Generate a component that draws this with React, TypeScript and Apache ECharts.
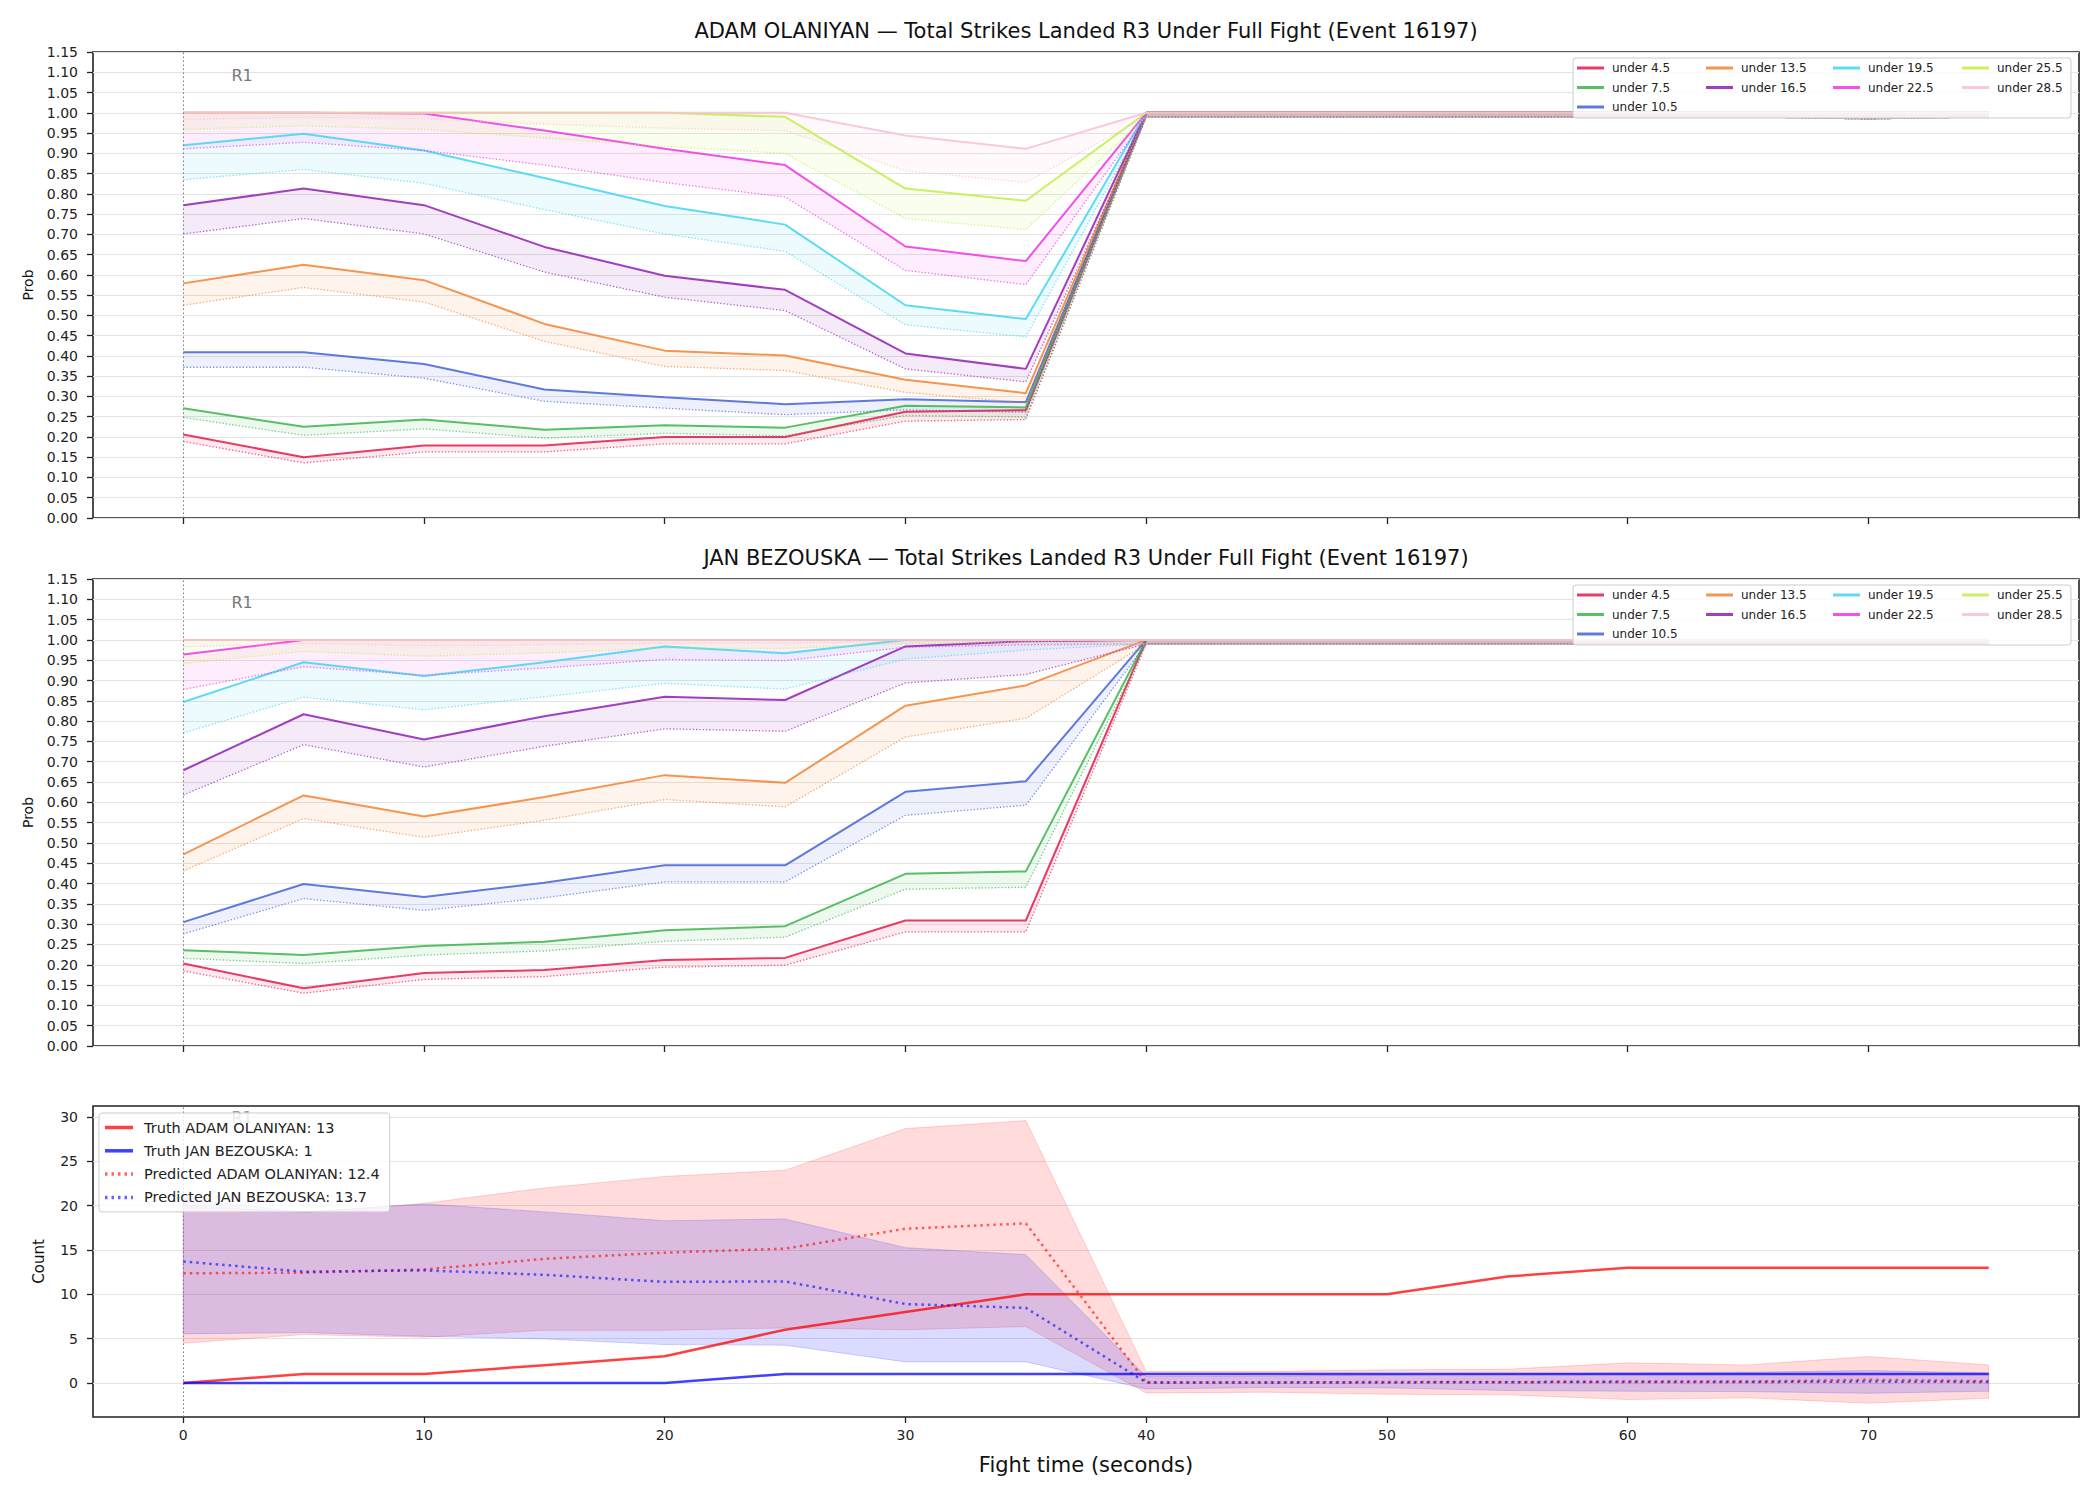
import React, { useEffect, useRef } from 'react';
import * as echarts from 'echarts';

// ---------- DATA ----------
const TIMES = [0, 5, 10, 15, 20, 25, 30, 35, 40, 45, 50, 55, 60, 65, 70, 75];
const X_TICKS = [0, 10, 20, 30, 40, 50, 60, 70];
const COUNT_TICKS = [0, 5, 10, 15, 20, 25, 30];

const THRESHOLDS = ['under 4.5', 'under 7.5', 'under 10.5', 'under 13.5', 'under 16.5', 'under 19.5', 'under 22.5', 'under 25.5', 'under 28.5'];
const RGB = ['230,25,75', '60,180,75', '67,99,216', '245,130,49', '145,30,180', '66,212,244', '240,50,230', '191,239,69', '250,190,212'];

const TITLE_ADAM = 'ADAM OLANIYAN — Total Strikes Landed R3 Under Full Fight (Event 16197)';
const TITLE_JAN = 'JAN BEZOUSKA — Total Strikes Landed R3 Under Full Fight (Event 16197)';

// ADAM OLANIYAN: solid probability lines
const ADAM_SOLID = [
  [0.206, 0.150, 0.179, 0.179, 0.200, 0.200, 0.262, 0.266, 1, 1, 1, 1, 1, 1, 1, 1],
  [0.271, 0.225, 0.243, 0.218, 0.229, 0.223, 0.277, 0.273, 1, 1, 1, 1, 1, 1, 1, 1],
  [0.409, 0.409, 0.380, 0.317, 0.298, 0.281, 0.293, 0.286, 1, 1, 1, 1, 1, 1, 1, 1],
  [0.579, 0.625, 0.587, 0.479, 0.413, 0.401, 0.341, 0.308, 1, 1, 1, 1, 1, 1, 1, 1],
  [0.772, 0.813, 0.772, 0.669, 0.598, 0.563, 0.406, 0.368, 1, 1, 1, 1, 1, 1, 1, 1],
  [0.920, 0.948, 0.907, 0.839, 0.770, 0.724, 0.525, 0.491, 1, 1, 1, 1, 1, 1, 1, 1],
  [1.000, 1.000, 0.998, 0.956, 0.911, 0.871, 0.670, 0.634, 1, 1, 1, 1, 1, 1, 1, 1],
  [1.000, 1.000, 1.000, 1.000, 1.000, 0.990, 0.813, 0.783, 1, 1, 1, 1, 1, 1, 1, 1],
  [1.000, 1.000, 1.000, 1.000, 1.000, 1.000, 0.944, 0.911, 1, 1, 1, 1, 1, 1, 1, 1],
];
// ADAM OLANIYAN: dotted lines
const ADAM_DOTTED = [
  [0.189, 0.136, 0.163, 0.163, 0.183, 0.183, 0.239, 0.243, 0.99, 0.99, 0.99, 0.99, 0.99, 0.99, 0.985, 0.99],
  [0.248, 0.204, 0.220, 0.197, 0.209, 0.203, 0.253, 0.249, 0.99, 0.99, 0.99, 0.99, 0.99, 0.99, 0.985, 0.99],
  [0.372, 0.372, 0.345, 0.288, 0.271, 0.255, 0.267, 0.261, 0.99, 0.99, 0.99, 0.99, 0.99, 0.99, 0.985, 0.99],
  [0.525, 0.569, 0.533, 0.436, 0.374, 0.364, 0.310, 0.284, 0.99, 0.99, 0.99, 0.99, 0.99, 0.99, 0.985, 0.99],
  [0.701, 0.739, 0.701, 0.607, 0.545, 0.512, 0.368, 0.336, 0.99, 0.99, 0.99, 0.99, 0.99, 0.99, 0.985, 0.99],
  [0.835, 0.860, 0.826, 0.761, 0.701, 0.658, 0.477, 0.447, 0.99, 0.99, 0.99, 0.99, 0.99, 0.99, 0.985, 0.99],
  [0.911, 0.927, 0.907, 0.871, 0.828, 0.792, 0.611, 0.576, 0.99, 0.99, 0.99, 0.99, 0.99, 0.99, 0.985, 0.99],
  [0.959, 0.968, 0.959, 0.938, 0.917, 0.900, 0.739, 0.712, 0.99, 0.99, 0.99, 0.99, 0.99, 0.99, 0.985, 0.99],
  [0.983, 0.989, 0.985, 0.972, 0.962, 0.956, 0.857, 0.828, 0.99, 0.99, 0.99, 0.99, 0.99, 0.99, 0.985, 0.99],
];
// JAN BEZOUSKA: solid probability lines
const JAN_SOLID = [
  [0.203, 0.142, 0.180, 0.187, 0.212, 0.217, 0.309, 0.309, 1, 1, 1, 1, 1, 1, 1, 1],
  [0.236, 0.224, 0.246, 0.257, 0.285, 0.295, 0.424, 0.430, 1, 1, 1, 1, 1, 1, 1, 1],
  [0.305, 0.399, 0.367, 0.402, 0.445, 0.445, 0.626, 0.652, 1, 1, 1, 1, 1, 1, 1, 1],
  [0.472, 0.617, 0.565, 0.613, 0.667, 0.648, 0.838, 0.888, 1, 1, 1, 1, 1, 1, 1, 1],
  [0.679, 0.817, 0.755, 0.812, 0.860, 0.852, 0.984, 0.997, 1, 1, 1, 1, 1, 1, 1, 1],
  [0.847, 0.945, 0.911, 0.945, 0.984, 0.967, 1.000, 1.000, 1, 1, 1, 1, 1, 1, 1, 1],
  [0.964, 1.000, 1.000, 1.000, 1.000, 1.000, 1.000, 1.000, 1, 1, 1, 1, 1, 1, 1, 1],
  [1.000, 1.000, 1.000, 1.000, 1.000, 1.000, 1.000, 1.000, 1, 1, 1, 1, 1, 1, 1, 1],
  [1.000, 1.000, 1.000, 1.000, 1.000, 1.000, 1.000, 1.000, 1, 1, 1, 1, 1, 1, 1, 1],
];
// JAN BEZOUSKA: dotted lines
const JAN_DOTTED = [
  [0.185, 0.130, 0.164, 0.171, 0.194, 0.199, 0.281, 0.281, 0.99, 0.99, 0.99, 0.99, 0.99, 0.99, 0.99, 0.99],
  [0.216, 0.203, 0.224, 0.234, 0.258, 0.268, 0.386, 0.391, 0.99, 0.99, 0.99, 0.99, 0.99, 0.99, 0.99, 0.99],
  [0.276, 0.363, 0.334, 0.365, 0.404, 0.404, 0.568, 0.593, 0.99, 0.99, 0.99, 0.99, 0.99, 0.99, 0.99, 0.99],
  [0.431, 0.560, 0.514, 0.556, 0.607, 0.589, 0.761, 0.807, 0.99, 0.99, 0.99, 0.99, 0.99, 0.99, 0.99, 0.99],
  [0.618, 0.742, 0.687, 0.738, 0.781, 0.775, 0.894, 0.915, 0.99, 0.99, 0.99, 0.99, 0.99, 0.99, 0.99, 0.99],
  [0.771, 0.859, 0.828, 0.860, 0.893, 0.879, 0.953, 0.975, 0.99, 0.99, 0.99, 0.99, 0.99, 0.99, 0.99, 0.99],
  [0.878, 0.934, 0.913, 0.931, 0.952, 0.949, 0.982, 0.988, 0.99, 0.99, 0.99, 0.99, 0.99, 0.99, 0.99, 0.99],
  [0.942, 0.972, 0.960, 0.968, 0.980, 0.979, 0.991, 0.994, 0.99, 0.99, 0.99, 0.99, 0.99, 0.99, 0.99, 0.99],
  [0.983, 0.991, 0.986, 0.988, 0.992, 0.992, 0.996, 0.997, 0.99, 0.99, 0.99, 0.99, 0.99, 0.99, 0.99, 0.99],
];

// Counts panel
const TRUTH_ADAM = [0, 1, 1, 2, 3, 6, 8, 10, 10, 10, 10, 12, 13, 13, 13, 13];
const TRUTH_JAN = [0, 0, 0, 0, 0, 1, 1, 1, 1, 1, 1, 1, 1, 1, 1, 1];
const PRED_ADAM = [12.37, 12.44, 12.8, 14.0, 14.7, 15.15, 17.4, 18.0, 0.05, 0.05, 0.1, 0.1, 0.15, 0.15, 0.35, 0.2];
const PRED_JAN = [13.7, 12.55, 12.7, 12.2, 11.4, 11.45, 8.9, 8.46, 0.05, 0.05, 0.05, 0.08, 0.1, 0.1, 0.15, 0.1];
const ADAM_HI = [20.0, 19.25, 20.26, 22.0, 23.3, 24.0, 28.7, 29.6, 1.28, 1.3, 1.47, 1.54, 2.26, 2.03, 2.97, 2.03];
const ADAM_LO = [4.47, 5.45, 5.15, 5.94, 5.94, 6.2, 6.0, 6.35, -1.13, -1.05, -1.28, -1.35, -1.88, -1.69, -2.29, -1.73];
const JAN_HI = [20.8, 19.25, 20.2, 19.3, 18.3, 18.5, 15.26, 14.47, 0.71, 0.75, 0.9, 1.0, 1.13, 1.2, 1.39, 1.13];
const JAN_LO = [5.53, 5.68, 5.26, 4.96, 4.32, 4.25, 2.37, 2.37, -0.68, -0.53, -0.56, -0.86, -0.94, -0.98, -1.17, -0.94];

const LEGEND_BOTTOM = ['Truth ADAM OLANIYAN: 13', 'Truth JAN BEZOUSKA: 1', 'Predicted ADAM OLANIYAN: 12.4', 'Predicted JAN BEZOUSKA: 13.7'];

// ---------- helpers ----------
const FONT = 'DejaVu Sans';
const pts = (vals: number[]) => TIMES.map((t, i) => [t, vals[i]]);
const SOLID_ICON = 'path://M0,0H28V1H0Z';
const DOT_ICON = 'path://M0,0H2.5V1H0Z M6.5,0H9V1H6.5Z M13,0H15.5V1H13Z M19.5,0H22V1H19.5Z M26,0H28V1H26Z';

function bandSeries(idx: number, lo: number[], hi: number[], fill: string, stroke: string, z = 2) {
  const data = TIMES.map((t, i) => [t, lo[i], hi[i]]);
  return {
    type: 'custom',
    xAxisIndex: idx,
    yAxisIndex: idx,
    silent: true,
    z,
    data,
    encode: { x: 0, y: [1, 2] },
    renderItem: (params: any, api: any) => {
      if (params.dataIndex !== 0) return { type: 'group', children: [] };
      const upper = data.map((d) => api.coord([d[0], d[2]]));
      const lower = data.map((d) => api.coord([d[0], d[1]])).reverse();
      return {
        type: 'polygon',
        shape: { points: upper.concat(lower) },
        style: { fill, stroke, lineWidth: 1 },
      };
    },
  };
}

function buildOption() {
  const grids = [
    { left: 93, right: 21, top: 52, height: 466 },
    { left: 93, right: 21, top: 579, height: 467 },
    { left: 93, right: 21, top: 1106, height: 311 },
  ].map((g) => ({ ...g, show: true, borderColor: '#222', borderWidth: 1.6, backgroundColor: 'transparent' }));

  const xAxes = [0, 1, 2].map((i) => ({
    type: 'value',
    gridIndex: i,
    min: -3.75,
    max: 78.75,
    position: 'bottom',
    axisLine: { show: false, onZero: false },
    axisTick: { show: true, customValues: X_TICKS, length: 6, lineStyle: { color: '#222', width: 1.3 } },
    axisLabel: { show: i === 2, customValues: X_TICKS, fontSize: 14, color: '#222', margin: 11, fontFamily: FONT },
    splitLine: { show: false },
    name: i === 2 ? 'Fight time (seconds)' : '',
    nameLocation: 'middle',
    nameGap: 37,
    nameTextStyle: { fontSize: 21, color: '#111', fontFamily: FONT },
  }));

  const probY = (i: number) => ({
    type: 'value',
    gridIndex: i,
    min: 0,
    max: 1.15,
    interval: 0.05,
    axisLine: { show: false, onZero: false },
    axisTick: { show: true, length: 6, lineStyle: { color: '#222', width: 1.3 } },
    axisLabel: { fontSize: 14, color: '#222', margin: 15, fontFamily: FONT, formatter: (v: number) => v.toFixed(2) },
    splitLine: { show: true, lineStyle: { color: '#e3e3e3', width: 1 } },
    name: 'Prob',
    nameLocation: 'middle',
    nameGap: 58,
    nameTextStyle: { fontSize: 14, color: '#111', fontFamily: FONT },
  });
  const yAxes = [
    probY(0),
    probY(1),
    {
      type: 'value',
      gridIndex: 2,
      min: -3.85,
      max: 31.25,
      axisLine: { show: false, onZero: false },
      axisTick: { show: true, customValues: COUNT_TICKS, length: 6, lineStyle: { color: '#222', width: 1.3 } },
      axisLabel: { customValues: COUNT_TICKS, fontSize: 14, color: '#222', margin: 15, fontFamily: FONT },
      splitLine: { show: true, lineStyle: { color: '#e3e3e3', width: 1 } },
      name: 'Count',
      nameLocation: 'middle',
      nameGap: 47,
      nameTextStyle: { fontSize: 15, color: '#111', fontFamily: FONT },
    },
  ];

  const series: any[] = [];
  const legends: any[] = [];
  const graphics: any[] = [];

  const panels = [
    { solid: ADAM_SOLID, dotted: ADAM_DOTTED, title: TITLE_ADAM, offset: 0 },
    { solid: JAN_SOLID, dotted: JAN_DOTTED, title: TITLE_JAN, offset: 527 },
  ];

  panels.forEach((p, pi) => {
    THRESHOLDS.forEach((name, k) => {
      const c = RGB[k];
      series.push(bandSeries(pi, p.dotted[k], p.solid[k], `rgba(${c},0.09)`, 'none', 2));
      series.push({
        type: 'line',
        name: name + ' lower',
        xAxisIndex: pi,
        yAxisIndex: pi,
        data: pts(p.dotted[k]),
        symbol: 'none',
        silent: true,
        z: 2,
        color: `rgba(${c},0.7)`,
        lineStyle: { width: 1.3, type: [1.3, 2], color: `rgba(${c},0.7)` },
      });
      const s: any = {
        type: 'line',
        name,
        xAxisIndex: pi,
        yAxisIndex: pi,
        data: pts(p.solid[k]),
        symbol: 'none',
        silent: true,
        z: 2,
        color: `rgba(${c},0.85)`,
        itemStyle: { color: `rgba(${c},0.85)` },
        lineStyle: { width: 2, color: `rgba(${c},0.85)` },
      };
      if (k === 0) {
        s.markLine = {
          silent: true,
          symbol: ['none', 'none'],
          label: { show: false },
          lineStyle: { color: '#777', type: [1.5, 2.5], width: 1 },
          data: [{ xAxis: 0 }],
        };
        s.markPoint = {
          silent: true,
          symbol: 'circle',
          symbolSize: 0,
          z: 2,
          data: [{ coord: [2, 1.093] }],
          label: { show: true, position: 'right', distance: 0, formatter: 'R1', color: '#777', fontSize: 16, fontFamily: FONT },
        };
      }
      series.push(s);
    });

    const cols = [[0, 1, 2], [3, 4], [5, 6], [7, 8]];
    const lefts = [1577, 1706, 1833, 1962];
    cols.forEach((col, ci) => {
      legends.push({
        orient: 'vertical',
        left: lefts[ci],
        top: 62 + p.offset,
        padding: 0,
        itemGap: 7.5,
        itemWidth: 27,
        itemHeight: 3,
        icon: SOLID_ICON,
        symbolKeepAspect: false,
        selectedMode: false,
        z: 10,
        textStyle: { fontSize: 12, lineHeight: 12, color: '#222', fontFamily: FONT, padding: [0, 0, 0, 3] },
        data: col.map((k) => THRESHOLDS[k]),
      });
    });
    graphics.push({
      type: 'rect',
      z: 4,
      shape: { x: 1573, y: 58 + p.offset, width: 498, height: 60, r: 3 },
      style: { fill: 'rgba(255,255,255,0.8)', stroke: '#cccccc', lineWidth: 1 },
    });
    graphics.push({
      type: 'text',
      z: 10,
      x: 1086,
      y: pi === 0 ? 31 : 558,
      style: { text: p.title, fill: '#111', font: `21px "${FONT}"`, textAlign: 'center', textVerticalAlign: 'middle' },
    });
  });

  // Count panel
  series.push(bandSeries(2, ADAM_LO, ADAM_HI, 'rgba(255,0,0,0.14)', 'rgba(255,0,0,0.16)', 2));
  series.push(bandSeries(2, JAN_LO, JAN_HI, 'rgba(0,0,255,0.14)', 'rgba(0,0,255,0.16)', 2));
  series.push({
    type: 'line',
    name: LEGEND_BOTTOM[0],
    xAxisIndex: 2,
    yAxisIndex: 2,
    data: pts(TRUTH_ADAM),
    symbol: 'none',
    silent: true,
    z: 3,
    color: 'rgba(255,0,0,0.75)',
    itemStyle: { color: 'rgba(255,0,0,0.75)' },
    lineStyle: { width: 2.5, color: 'rgba(255,0,0,0.75)' },
    markLine: {
      silent: true,
      symbol: ['none', 'none'],
      label: { show: false },
      lineStyle: { color: '#777', type: [1.5, 2.5], width: 1 },
      data: [{ xAxis: 0 }],
    },
    markPoint: {
      silent: true,
      symbol: 'circle',
      symbolSize: 0,
      z: 2,
      data: [{ coord: [2, 30.0] }],
      label: { show: true, position: 'right', distance: 0, formatter: 'R1', color: '#999', fontSize: 16, fontFamily: FONT },
    },
  });
  series.push({
    type: 'line',
    name: LEGEND_BOTTOM[1],
    xAxisIndex: 2,
    yAxisIndex: 2,
    data: pts(TRUTH_JAN),
    symbol: 'none',
    silent: true,
    z: 3,
    color: 'rgba(0,0,255,0.75)',
    itemStyle: { color: 'rgba(0,0,255,0.75)' },
    lineStyle: { width: 2.5, color: 'rgba(0,0,255,0.75)' },
  });
  series.push({
    type: 'line',
    name: LEGEND_BOTTOM[2],
    xAxisIndex: 2,
    yAxisIndex: 2,
    data: pts(PRED_ADAM),
    symbol: 'none',
    silent: true,
    z: 3,
    color: 'rgba(255,0,0,0.6)',
    itemStyle: { color: 'rgba(255,0,0,0.6)' },
    lineStyle: { width: 2.5, type: [2.5, 4], color: 'rgba(255,0,0,0.6)' },
  });
  series.push({
    type: 'line',
    name: LEGEND_BOTTOM[3],
    xAxisIndex: 2,
    yAxisIndex: 2,
    data: pts(PRED_JAN),
    symbol: 'none',
    silent: true,
    z: 3,
    color: 'rgba(0,0,255,0.6)',
    itemStyle: { color: 'rgba(0,0,255,0.6)' },
    lineStyle: { width: 2.5, type: [2.5, 4], color: 'rgba(0,0,255,0.6)' },
  });

  legends.push({
    orient: 'vertical',
    left: 99,
    top: 1113,
    padding: [7, 10, 7, 6],
    itemGap: 8.3,
    itemWidth: 28,
    itemHeight: 3.5,
    symbolKeepAspect: false,
    selectedMode: false,
    backgroundColor: 'rgba(255,255,255,0.8)',
    borderColor: '#cccccc',
    borderWidth: 1,
    borderRadius: 3,
    z: 10,
    textStyle: { fontSize: 14.5, lineHeight: 14, color: '#222', fontFamily: FONT, padding: [0, 0, 0, 6] },
    data: [
      { name: LEGEND_BOTTOM[0], icon: SOLID_ICON },
      { name: LEGEND_BOTTOM[1], icon: SOLID_ICON },
      { name: LEGEND_BOTTOM[2], icon: DOT_ICON },
      { name: LEGEND_BOTTOM[3], icon: DOT_ICON },
    ],
  });

  return {
    animation: false,
    backgroundColor: '#ffffff',
    textStyle: { fontFamily: FONT },
    grid: grids,
    xAxis: xAxes,
    yAxis: yAxes,
    legend: legends,
    graphic: { elements: graphics },
    series,
  };
}

export default function App() {
  const ref = useRef<HTMLDivElement>(null);
  useEffect(() => {
    if (!ref.current) return;
    const chart = echarts.init(ref.current, undefined, { renderer: 'svg' });
    chart.setOption(buildOption() as any);
    return () => chart.dispose();
  }, []);
  return <div ref={ref} style={{ position: 'absolute', left: 0, top: 0, width: 2100, height: 1500 }} />;
}
